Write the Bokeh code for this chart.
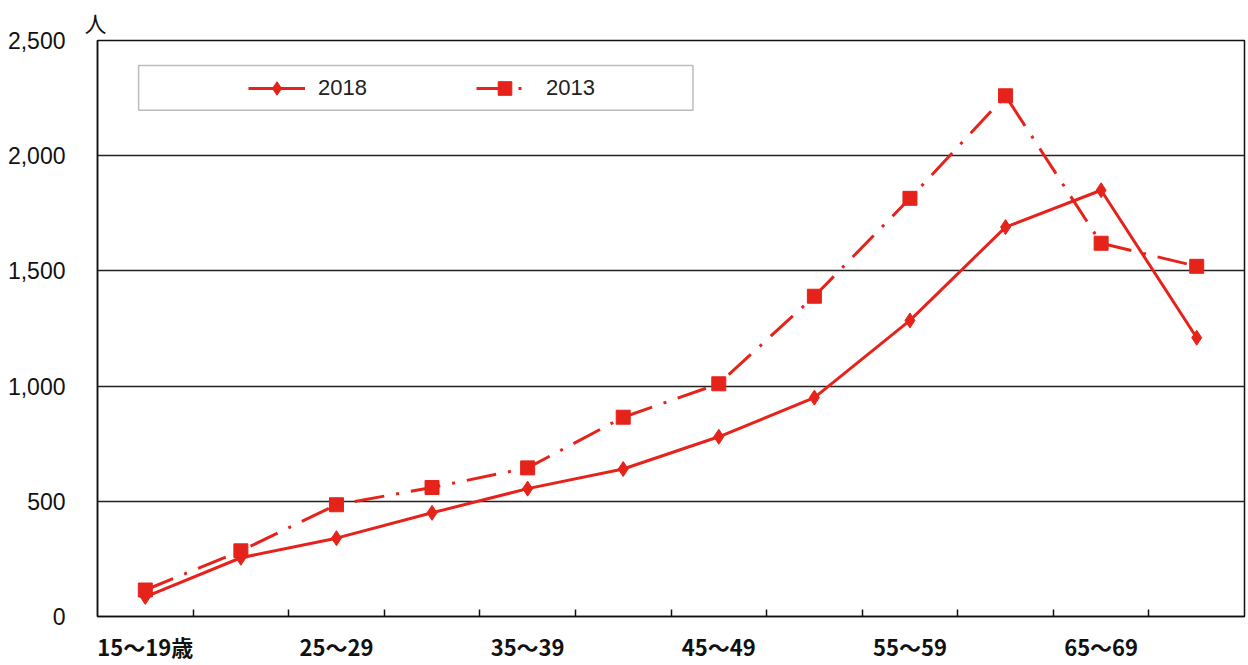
from bokeh.plotting import figure
from bokeh.models import FixedTicker, NumeralTickFormatter, Range1d, BoxAnnotation
from bokeh.embed import file_html
from bokeh.resources import INLINE

# ---- data ----
categories = ["15～19歳", "20～24", "25～29", "30～34", "35～39", "40～44",
              "45～49", "50～54", "55～59", "60～64", "65～69", "70～74"]
values_2018 = [85, 255, 340, 450, 555, 640, 780, 950, 1285, 1690, 1850, 1210]
values_2013 = [115, 285, 485, 560, 645, 865, 1010, 1390, 1815, 2260, 1620, 1520]
y_ticks = [0, 500, 1000, 1500, 2000, 2500]
series_names = ["2018", "2013"]
unit_label = "人"

# ---- styles ----
RED = "#e5231b"
x = list(range(len(categories)))
label_idx = x[::2]

p = figure(frame_width=1147, frame_height=576, output_backend="svg",
           toolbar_location=None, x_range=Range1d(-0.5, len(categories) - 0.5),
           y_range=Range1d(0, 2500), min_border_left=97, min_border_top=40,
           min_border_right=3, min_border_bottom=2,
           background_fill_color="white", border_fill_color="white",
           title=unit_label)

p.title.align = "left"
p.title.offset = -13
p.title.standoff = 6
p.title.text_font = "Noto Sans CJK JP"
p.title.text_font_size = "22px"
p.title.text_font_style = "normal"
p.title.text_color = "#111111"

p.outline_line_color = "#111111"
p.outline_line_width = 1.5

# y axis
p.yaxis.ticker = FixedTicker(ticks=y_ticks)
p.yaxis.formatter = NumeralTickFormatter(format="0,0")
p.yaxis.major_tick_out = 0
p.yaxis.major_tick_in = 0
p.yaxis.minor_tick_out = 0
p.yaxis.minor_tick_in = 0
p.yaxis.axis_line_color = "#111111"
p.yaxis.axis_line_width = 1.5
p.yaxis.major_label_text_font = "Liberation Sans"
p.yaxis.major_label_text_font_size = "23px"
p.yaxis.major_label_text_color = "#111111"
p.yaxis.major_label_standoff = 32

# x axis
p.xaxis.ticker = FixedTicker(ticks=label_idx, minor_ticks=[i + 0.5 for i in x[:-1]])
p.xaxis.major_label_overrides = {i: categories[i] for i in label_idx}
p.xaxis.major_tick_in = 0
p.xaxis.major_tick_out = 0
p.xaxis.minor_tick_in = 7
p.xaxis.minor_tick_out = 0
p.xaxis.minor_tick_line_color = "#111111"
p.xaxis.minor_tick_line_width = 1.5
p.xaxis.axis_line_color = "#111111"
p.xaxis.axis_line_width = 1.5
p.xaxis.major_label_text_font = "Noto Sans CJK JP"
p.xaxis.major_label_text_font_style = "bold"
p.xaxis.major_label_text_font_size = "22px"
p.xaxis.major_label_text_color = "#111111"
p.xaxis.major_label_standoff = 13

# grid
p.xgrid.grid_line_color = None
p.ygrid.ticker = FixedTicker(ticks=y_ticks)
p.ygrid.grid_line_color = "#222222"
p.ygrid.grid_line_width = 1.5

# legend frame box
box = BoxAnnotation(left=-0.07, right=5.73, bottom=2197, top=2392,
                    fill_color="white", fill_alpha=1.0,
                    line_color="#222222", line_width=1.5, level="underlay")
p.add_layout(box)

# series
p.line(x, values_2018, line_color=RED, line_width=3, legend_label=series_names[0])
p.scatter(x, values_2018, marker="diamond", size=15, fill_color=RED,
          line_color=RED, legend_label=series_names[0])
p.line(x, values_2013, line_color=RED, line_width=3, line_dash="30 12 3 12",
       legend_label=series_names[1])
p.scatter(x, values_2013, marker="square", size=14, fill_color=RED,
          line_color=RED, legend_label=series_names[1])

lg = p.legend[0]
lg.orientation = "horizontal"
lg.location = (151, 511)
lg.margin = 0
lg.padding = 0
lg.border_line_color = None
lg.background_fill_alpha = 0
lg.glyph_width = 57
lg.glyph_height = 34
lg.label_height = 34
lg.label_standoff = 13
lg.label_width = 50
lg.spacing = 108
lg.label_text_font = "Liberation Sans"
lg.label_text_font_size = "22px"
lg.label_text_color = "#222222"

open("out.html", "w").write(file_html(p, INLINE))
